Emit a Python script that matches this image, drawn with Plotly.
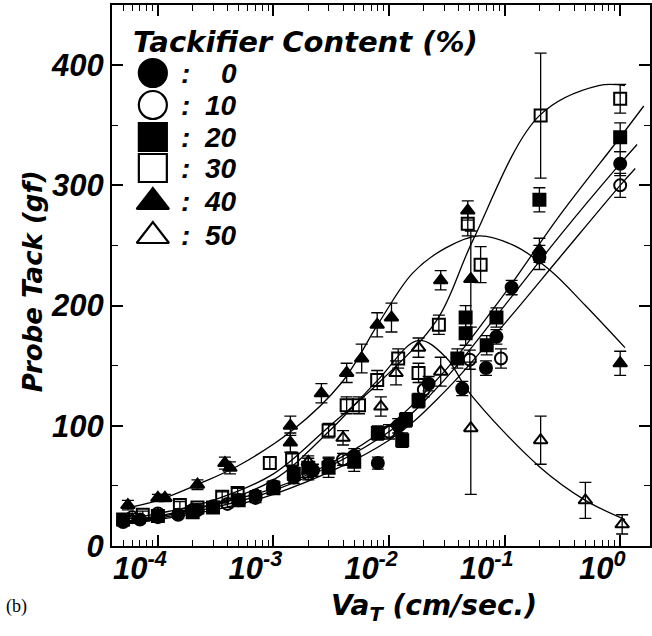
import plotly.graph_objects as go

# ---------------- data ----------------
x0 = [5e-5, 7e-5, 1e-4, 1.5e-4, 2.2e-4, 3e-4, 5e-4, 7e-4, 1e-3, 1.5e-3, 2.2e-3, 3e-3, 5e-3, 8e-3, 1.2e-2, 2.2e-2, 4.3e-2, 6.9e-2, 8.5e-2, 0.115, 0.2, 1.0]
y0 = [20, 22, 24, 26, 30, 33, 38, 42, 50, 57, 63, 68, 75, 69, 100, 135, 131, 148, 174, 215, 240, 318]
e0 = [3, 3, 3, 3, 3, 3, 4, 4, 4, 5, 5, 6, 6, 5, 6, 6, 6, 6, 6, 6, 10, 10]

x10 = [6e-5, 1e-4, 2e-4, 4e-4, 7e-4, 1e-3, 2e-3, 4e-3, 1e-2, 2e-2, 5e-2, 9.3e-2, 1.0]
y10 = [24, 27, 30, 35, 40, 48, 60, 72, 95, 130, 155, 156, 300]
e10 = [3, 3, 3, 3, 4, 4, 5, 5, 6, 6, 8, 8, 10]

x20 = [5e-5, 1e-4, 2e-4, 3e-4, 5e-4, 1e-3, 1.5e-3, 2e-3, 3e-3, 5e-3, 8e-3, 1.3e-2, 1.4e-2, 1.8e-2, 3.9e-2, 4.6e-2, 4.6e-2, 7e-2, 8.5e-2, 0.2, 1.0]
y20 = [22, 25, 28, 32, 38, 48, 60, 65, 65, 70, 94, 88, 105, 121, 156, 177, 190, 167, 190, 288, 340]
e20 = [3, 3, 3, 3, 4, 4, 5, 8, 8, 8, 6, 6, 6, 6, 8, 10, 10, 8, 8, 10, 12]

x30 = [7.4e-5, 1.55e-4, 2.2e-4, 3.6e-4, 4.9e-4, 9.3e-4, 1.45e-3, 3e-3, 4.3e-3, 5.5e-3, 7.9e-3, 1.2e-2, 1.8e-2, 2.7e-2, 4.8e-2, 6.2e-2, 0.205, 1.0]
y30 = [26, 34, 32, 41, 44, 69, 72, 96, 117, 117, 138, 156, 144, 184, 268, 234, 358, 372]
e30 = [3, 3, 3, 4, 4, 5, 6, 6, 7, 7, 8, 8, 8, 8, 10, 15, 52, 12]

x40 = [5.5e-5, 1e-4, 1.15e-4, 2.2e-4, 3.8e-4, 4.2e-4, 1.4e-3, 1.4e-3, 2.6e-3, 4.3e-3, 5.8e-3, 7.9e-3, 1.05e-2, 2.8e-2, 4.8e-2, 5.1e-2, 0.2, 1.0]
y40 = [34, 40, 40, 51, 69, 65, 100, 86, 127, 144, 156, 184, 190, 221, 279, 222, 246, 152]
e40 = [4, 3, 3, 4, 5, 5, 8, 8, 8, 8, 12, 10, 12, 8, 8, 40, 10, 10]

x50 = [6e-5, 1e-4, 2e-4, 5e-4, 1e-3, 2e-3, 4e-3, 8.5e-3, 1.15e-2, 1.8e-2, 2.8e-2, 5.1e-2, 0.205, 0.5, 1.04]
y50 = [22, 26, 30, 38, 50, 70, 90, 116, 144, 165, 145, 98, 88, 38, 18]
e50 = [3, 3, 3, 4, 4, 5, 6, 8, 10, 8, 12, 55, 20, 15, 8]

# fitted curves
cx40 = [5e-5, 1e-4, 2.3e-4, 5e-4, 1.45e-3, 3.9e-3, 8.2e-3, 1.6e-2, 3.1e-2, 6e-2, 0.12, 0.25, 0.5, 1.1]
cy40 = [31, 38, 52, 67, 96, 136, 186, 227, 248, 258, 250, 229, 200, 165]
cx30 = [5e-5, 1e-4, 3e-4, 1e-3, 3e-3, 8.2e-3, 2.6e-2, 5.3e-2, 0.2, 0.65, 1.1]
cy30 = [22, 27, 38, 60, 99, 136, 188, 254, 358, 383, 383]
cx50 = [5e-5, 1e-4, 3e-4, 1e-3, 3e-3, 8e-3, 1.8e-2, 3.1e-2, 5e-2, 0.2, 0.5, 1.1]
cy50 = [20, 25, 35, 55, 95, 138, 171, 157, 127, 66, 38, 22]
cx20 = [5e-5, 1e-4, 1e-3, 3e-3, 1e-2, 3e-2, 0.1, 0.3, 1.0, 1.6]
cy20 = [20, 24, 48, 68, 100, 145, 210, 275, 340, 366]
cx0 = [5e-5, 1e-4, 1e-3, 1e-2, 3e-2, 0.1, 0.3, 1.0, 1.4]
cy0 = [20, 23, 46, 95, 138, 200, 258, 318, 334]
cx10 = [5e-5, 1e-4, 1e-3, 1e-2, 3e-2, 0.1, 0.3, 1.0, 1.35]
cy10 = [20, 22, 43, 88, 128, 185, 240, 300, 314]

legend_labels = ["0", "10", "20", "30", "40", "50"]
tick_vals = [1e-4, 1e-3, 1e-2, 1e-1, 1e0]
tick_text = ["10<sup>-4</sup>", "10<sup>-3</sup>", "10<sup>-2</sup>", "10<sup>-1</sup>", "10<sup>0</sup>"]

NUMF = "Liberation Sans"
TXTF = "DejaVu Sans"

# plot area in pixels
L, R, T, B = 112, 652, 5, 546
PW, PH = R - L, B - T


def px(x):
    return (x - L) / PW


def py(y):
    return (B - y) / PH


fig = go.Figure()

for cx, cy in [(cx40, cy40), (cx30, cy30), (cx50, cy50), (cx20, cy20), (cx0, cy0), (cx10, cy10)]:
    fig.add_trace(go.Scatter(x=cx, y=cy, mode="lines",
                             line=dict(color="black", width=1.3, shape="spline", smoothing=1.0),
                             hoverinfo="skip", showlegend=False))

series = [
    (x0, y0, e0, "circle"),
    (x10, y10, e10, "circle-open"),
    (x20, y20, e20, "square"),
    (x30, y30, e30, "square-open"),
    (x40, y40, e40, "triangle-up"),
    (x50, y50, e50, "triangle-up-open"),
]
for x, y, e, sym in series:
    fig.add_trace(go.Scatter(
        x=x, y=y, mode="markers",
        marker=dict(symbol=sym, size=12, color="black", line=dict(color="black", width=2)),
        error_y=dict(type="data", array=e, color="black", thickness=1.3, width=6),
        showlegend=False))

# manual legend drawn on an overlay axis spanning the plot area (0..1)
leg_sym = ["circle", "circle-open", "square", "square-open", "triangle-up", "triangle-up-open"]
leg_py = [73, 105, 137, 168, 202, 236]
leg_y = [py(v) for v in leg_py]
fig.add_trace(go.Scatter(x=[px(153)] * 6, y=leg_y, mode="markers", xaxis="x2", yaxis="y2",
                         marker=dict(symbol=leg_sym, size=28, color="black", line=dict(color="black", width=2.2)),
                         showlegend=False, hoverinfo="skip"))

numfont = dict(family=NUMF, size=28, color="black", weight="bold", style="italic")
annotations = []
for lab, yy in zip(legend_labels, leg_y):
    annotations.append(dict(x=px(186), y=yy, xref="paper", yref="paper", text=":", showarrow=False,
                            xanchor="center", yanchor="middle", font=numfont))
    annotations.append(dict(x=px(239), y=yy, xref="paper", yref="paper", text=lab, showarrow=False,
                            xanchor="right", yanchor="middle", font=numfont))
annotations.append(dict(x=px(131), y=py(42), xref="paper", yref="paper", text="Tackifier Content (%)",
                        showarrow=False, xanchor="left", yanchor="middle",
                        font=dict(family=TXTF, size=29, color="black", weight="bold", style="italic")))
annotations.append(dict(x=px(4), y=py(606), xref="paper", yref="paper", text="(b)", showarrow=False,
                        xanchor="left", yanchor="middle",
                        font=dict(family="Liberation Serif", size=18, color="black")))
annotations.append(dict(x=px(435), y=py(607), xref="paper", yref="paper",
                        text="Va<sub>T</sub> (cm/sec.)", showarrow=False, xanchor="center", yanchor="middle",
                        font=dict(family=TXTF, size=28, color="black", weight="bold", style="italic")))
annotations.append(dict(x=px(33), y=py(281), xref="paper", yref="paper", text="Probe Tack (gf)",
                        showarrow=False, textangle=-90, xanchor="center", yanchor="middle",
                        font=dict(family=TXTF, size=26, color="black", weight="bold", style="italic")))

minor_x = [m * 10 ** d for d in range(-5, 1) for m in range(2, 10)]

fig.update_layout(
    width=652, height=636,
    margin=dict(l=L, r=652 - R, t=T, b=636 - B),
    plot_bgcolor="white", paper_bgcolor="white",
    annotations=annotations,
    xaxis=dict(type="log", range=[-4.397, 0.258], tickmode="array", tickvals=tick_vals, ticktext=tick_text,
               ticks="inside", ticklen=11, tickwidth=1.5, tickcolor="black", ticklabelshift=-18,
               ticklabelstandoff=-6,
               showline=True, linecolor="black", linewidth=2, mirror="ticks", showgrid=False, zeroline=False,
               tickfont=dict(family=NUMF, size=31, color="black", weight="bold", style="italic"),
               minor=dict(tickvals=minor_x, ticks="inside", ticklen=6, tickwidth=1.3, tickcolor="black", showgrid=False)),
    yaxis=dict(range=[0, 450], tickmode="array", tickvals=[0, 100, 200, 300, 400],
               ticks="inside", ticklen=11, tickwidth=1.5, tickcolor="black",
               showline=True, linecolor="black", linewidth=2, mirror="ticks", showgrid=False, zeroline=False,
               tickfont=dict(family=NUMF, size=31, color="black", weight="bold", style="italic"),
               minor=dict(tickvals=[50, 150, 250, 350], ticks="inside", ticklen=6, tickwidth=1.3, tickcolor="black", showgrid=False)),
    xaxis2=dict(overlaying="x", range=[0, 1], visible=False, fixedrange=True),
    yaxis2=dict(overlaying="y", range=[0, 1], visible=False, fixedrange=True),
)

fig.write_html("out.html")
